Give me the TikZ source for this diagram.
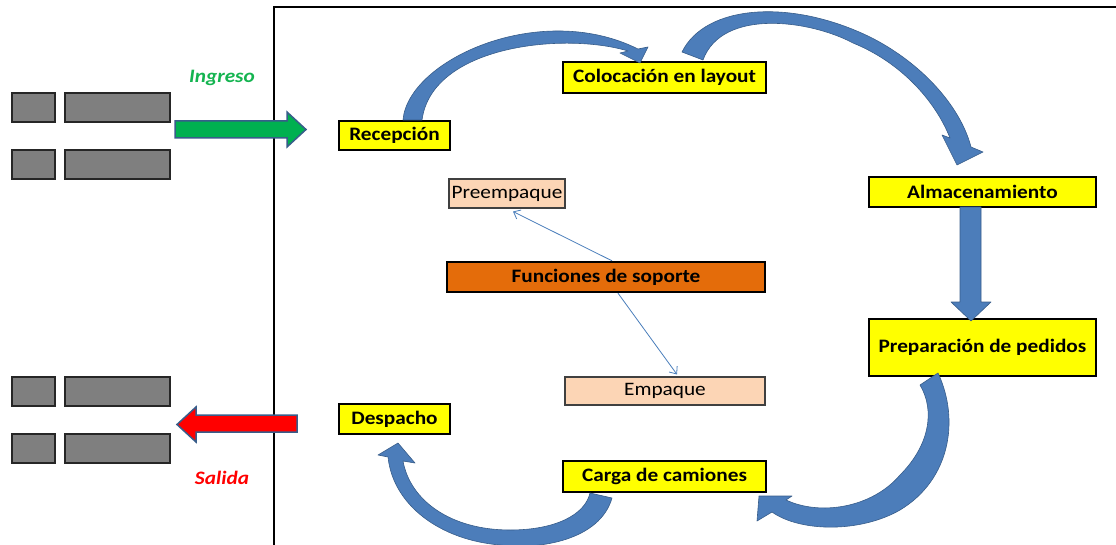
\documentclass[tikz,border=0pt]{standalone}
\usepackage{fontspec}
\setmainfont{Carlito}[FakeStretch=1.12]
\usetikzlibrary{arrows.meta,calc}
\definecolor{boxyellow}{RGB}{255,255,0}
\definecolor{arrowblue}{RGB}{76,125,186}
\definecolor{arrowedge}{RGB}{56,93,138}
\definecolor{soporte}{RGB}{228,108,10}
\definecolor{peach}{RGB}{252,213,181}
\definecolor{dockgray}{RGB}{127,127,127}
\definecolor{ingresogreen}{RGB}{20,180,80}
\definecolor{arrowgreen}{RGB}{0,176,80}
\definecolor{thinblue}{RGB}{74,126,187}
\begin{document}
\begin{tikzpicture}[x=1pt,y=-1pt,
  stepbox/.style={draw=black, line width=2.4pt, fill=boxyellow, inner sep=0pt, font=\fontsize{19}{21}\selectfont\bfseries},
  supportbox/.style={draw=black, line width=2.4pt, fill=soporte, inner sep=0pt, font=\fontsize{19}{21}\selectfont\bfseries},
  subbox/.style={draw=black!75, line width=1.1pt, fill=peach, inner sep=0pt, font=\fontsize{19}{21}\selectfont},
  dock/.style={draw=black!85, line width=1.2pt, fill=dockgray},
  fatarrow/.style={fill=arrowblue, draw=arrowedge, line width=0.6pt, line join=round},
  flatarrow/.style={draw=arrowedge, line width=1.5pt, line join=miter},
  thinarrow/.style={draw=thinblue, line width=0.8pt, -{Straight Barb[length=6pt,width=10pt]}},
  side/.style={font=\fontsize{19}{21}\selectfont\bfseries\itshape},
]
\useasboundingbox (0,0) rectangle (1116,545);

% frame
\draw[line width=2.4pt, line join=miter] (274,546) -- (274,7) -- (1117,7);

% docks
\foreach \y in {93,150,377,434}{
  \path[dock] (12,\y) rectangle (55,\y+29);
  \path[dock] (65,\y) rectangle (170,\y+29);
}

% boxes
\node[stepbox, minimum width=111, minimum height=29] (rec) at (394.5,135.5) {Recepción};
\node[stepbox, minimum width=203, minimum height=31] (col) at (664.5,77.5) {Colocación en layout};
\node[stepbox, minimum width=227, minimum height=30] (alm) at (982.5,192) {Almacenamiento};
\node[stepbox, minimum width=227, minimum height=57] (ped) at (982.5,347.5) {Preparación de pedidos};
\node[stepbox, minimum width=111, minimum height=30] (des) at (394.5,419) {Despacho};
\node[stepbox, minimum width=203, minimum height=31] (car) at (664.5,476.5) {Carga de camiones};
\node[supportbox, minimum width=318, minimum height=30] (fun) at (606,277) {Funciones de soporte};
\node[subbox, minimum width=116, minimum height=29] (pem) at (507,193.5) {Preempaque};
\node[subbox, minimum width=200, minimum height=28] (emp) at (665,391) {Empaque};

% side labels
\node[side, text=ingresogreen] (ingreso) at (222,78) {Ingreso};
\node[side, text=red] (salida) at (222,478) {Salida};

% in / out arrows
\path[flatarrow, fill=arrowgreen] (175,121) -- (287,121) -- (287,112) -- (306,129.5) -- (287,147) -- (287,138) -- (175,138) -- cycle;
\path[flatarrow, fill=red] (297,415) -- (196,415) -- (196,407) -- (177,424.5) -- (196,442) -- (196,432) -- (297,432) -- cycle;

% thin support arrows
\draw[thinarrow] ($(fun.north)+(6,0)$) -- ($(pem.south)+(6,3)$);
\draw[thinarrow] ($(fun.south)+(12,0)$) -- ($(emp.north)+(12,-2)$);

% curved flow arrows
% Recepcion -> Colocacion
\path[fatarrow] (403,120) .. controls (408,60) and (540,0) .. (638,49)
  -- (648,47) -- (640,63) -- (620,53) -- (628,51)
  .. controls (565,32) and (432,45) .. (422,120) -- cycle;
% Colocacion -> Almacenamiento
\path[fatarrow] (682,52) .. controls (705,5) and (790,-2) .. (870,37)
  .. controls (920,62) and (960,105) .. (971,147)
  -- (983,152) -- (957,165) -- (942,135) -- (950,138)
  .. controls (935,100) and (900,62) .. (853,43)
  .. controls (810,20) and (722,8) .. (703,60) -- cycle;
% Almacenamiento -> Preparacion
\path[fatarrow] (960,207) -- (981,207) -- (981,302) -- (991,302) -- (971,321) -- (951,302) -- (960,302) -- cycle;
% Preparacion -> Carga
\path[fatarrow] (938,373) .. controls (960,420) and (950,480) .. (900,510)
  .. controls (860,533) and (800,532) .. (772,512)
  -- (757,521) -- (759,496) -- (792,496) -- (786,500)
  .. controls (820,516) and (872,508) .. (900,475)
  .. controls (930,445) and (935,410) .. (920,385) -- cycle;
% Carga -> Despacho
\path[fatarrow] (612,498) .. controls (600,540) and (540,550) .. (500,545)
  .. controls (440,540) and (393,505) .. (388,457)
  -- (378,455) -- (398,443) -- (415,463) -- (403,461)
  .. controls (410,500) and (450,530) .. (510,530)
  .. controls (555,530) and (585,515) .. (590,493) -- cycle;
\end{tikzpicture}
\end{document}
